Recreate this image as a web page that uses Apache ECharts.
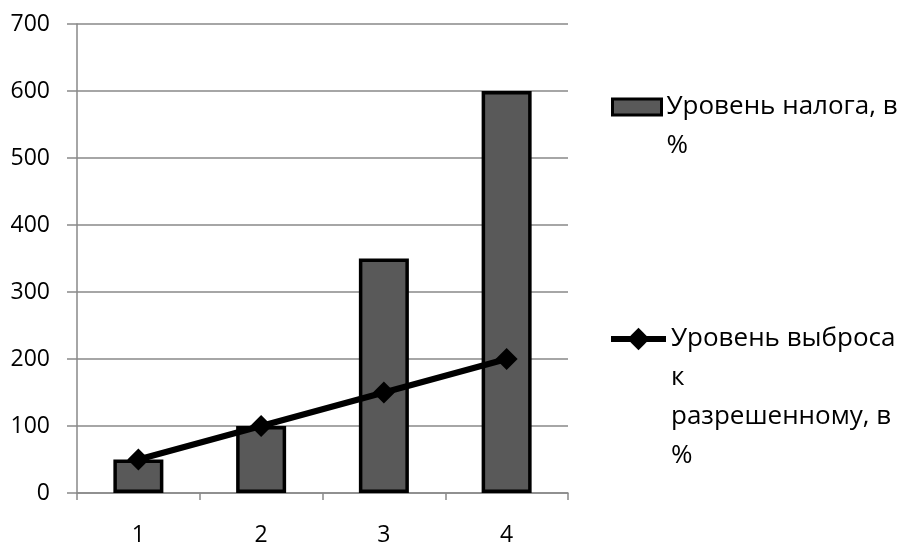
<!DOCTYPE html>
<html>
<head>
<meta charset="utf-8">
<script src="https://cdn.jsdelivr.net/npm/echarts@6/dist/echarts.min.js"></script>
<style>html,body{margin:0;padding:0;background:#fff;}#c{width:913px;height:544px;}</style>
</head>
<body>
<div id="c"></div>
<script>
var categories = ['1', '2', '3', '4'];
var taxLevel = [50, 100, 350, 600];
var emissionLevel = [50, 100, 150, 200];
var yTicks = [0, 100, 200, 300, 400, 500, 600, 700];
var seriesNames = ['Уровень налога, в\n%', 'Уровень выброса\nк\nразрешенному, в\n%'];

var FONT = 'Open Sans';
var LH = 39;
var LFS = 26;
function padTop(name) {
  var n = name.split('\n').length;
  return new Array(n).join('\n') + name;
}
var chart = echarts.init(document.getElementById('c'));
chart.setOption({
  animation: false,
  backgroundColor: '#fff',
  grid: { left: 77, right: 345, top: 24, bottom: 51, outerBoundsMode: 'none', containLabel: false },
  legend: [
    {
      data: [seriesNames[0]], left: 611, top: 107 - LH * 1.5, orient: 'vertical', padding: 0,
      icon: 'rect', itemWidth: 49, itemHeight: 16, itemGap: 0, selectedMode: false,
      itemStyle: { borderColor: '#000', borderWidth: 3 },
      formatter: padTop,
      textStyle: { fontFamily: FONT, fontSize: LFS, color: '#000', lineHeight: LH }
    },
    {
      data: [seriesNames[1]], left: 608, top: 339 - LH * 3.5, orient: 'vertical', padding: 0,
      itemWidth: 55, itemHeight: 28, itemGap: 0, selectedMode: false,
      lineStyle: { width: 6, color: '#000' },
      formatter: padTop,
      textStyle: { fontFamily: FONT, fontSize: LFS, color: '#000', lineHeight: LH }
    }
  ],
  xAxis: {
    type: 'category', data: categories,
    axisLine: { lineStyle: { color: '#898989', width: 1.5 } },
    axisTick: { show: true, length: 7, lineStyle: { color: '#898989', width: 1.5 } },
    axisLabel: { fontFamily: FONT, fontSize: 23, color: '#000', margin: 31 }
  },
  yAxis: {
    type: 'value', min: 0, max: 700, interval: 100,
    axisLine: { show: true, lineStyle: { color: '#898989', width: 1.5 } },
    axisTick: { show: true, length: 10, lineStyle: { color: '#898989', width: 1.5 } },
    splitLine: { lineStyle: { color: '#898989', width: 1.5 } },
    axisLabel: {
      fontFamily: FONT, fontSize: 23, color: '#000', margin: 27,
      formatter: function (v) { return yTicks.indexOf(v) >= 0 ? String(v) : ''; }
    }
  },
  series: [
    {
      name: seriesNames[0], type: 'bar', data: taxLevel, barWidth: 50,
      itemStyle: { color: '#595959', borderColor: '#000', borderWidth: 3.5 }
    },
    {
      name: seriesNames[1], type: 'line', data: emissionLevel,
      symbol: 'diamond', symbolSize: 22,
      lineStyle: { color: '#000', width: 6 },
      itemStyle: { color: '#000' }
    }
  ]
});
</script>
</body>
</html>
